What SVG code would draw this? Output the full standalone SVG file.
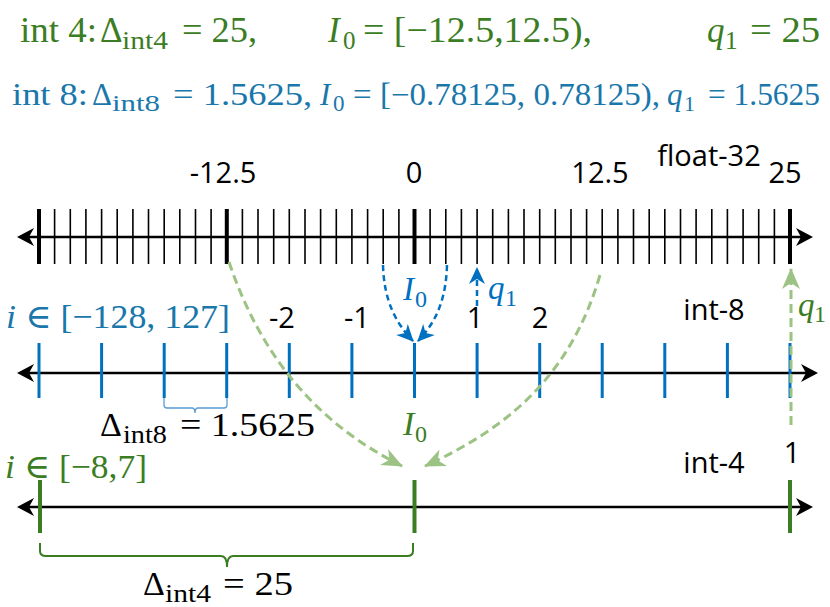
<svg xmlns="http://www.w3.org/2000/svg" width="830" height="607" viewBox="0 0 830 607">
<style>
.m{font-family:"Liberation Serif","DejaVu Serif",serif;}
.it{font-style:italic;}
.s{font-family:"Open Sans","Liberation Sans",sans-serif;font-size:29px;fill:#000;}
.g{fill:#3B7D23;}
.b{fill:#1A77AB;}
.bb{fill:#0070C0;}
.k{fill:#000;}
.axis{stroke:#000;stroke-width:2.6;fill:none;}
.ah{fill:#000;}
.dg{fill:none;stroke:#9CC384;stroke-width:3;stroke-dasharray:9 5;}
.db{fill:none;stroke:#0070C0;stroke-width:2.5;stroke-dasharray:6 4;}
</style>
<defs>
<marker id="ag" markerUnits="userSpaceOnUse" markerWidth="26" markerHeight="22" viewBox="-23 -11 26 22" refX="0" refY="0" orient="auto"><path d="M1,0 L-20,-9 L-14,0 L-20,9 Z" fill="#9CC384"/></marker>
<marker id="ab" markerUnits="userSpaceOnUse" markerWidth="22" markerHeight="20" viewBox="-19 -10 22 20" refX="0" refY="0" orient="auto"><path d="M1,0 L-16,-8 L-11,0 L-16,8 Z" fill="#0070C0"/></marker>
</defs>

<g id="header">
<g class="m g" font-size="35">
<text x="20" y="42" textLength="77" lengthAdjust="spacingAndGlyphs">int 4:</text>
<text x="100" y="42">Δ</text>
<text x="122" y="49" font-size="25" textLength="46" lengthAdjust="spacingAndGlyphs">int4</text>
<text x="182" y="42" textLength="75" lengthAdjust="spacingAndGlyphs">= 25,</text>
<text x="328" y="42" class="it">I</text>
<text x="343" y="49" font-size="25">0</text>
<text x="363" y="42" textLength="229" lengthAdjust="spacingAndGlyphs">= [−12.5,12.5),</text>
<text x="707" y="42" class="it">q</text>
<text x="725" y="49" font-size="25">1</text>
<text x="750" y="42" textLength="70" lengthAdjust="spacingAndGlyphs">= 25</text>
</g>
<g class="m b" font-size="31">
<text x="12" y="105" textLength="76" lengthAdjust="spacingAndGlyphs">int 8:</text>
<text x="92" y="105">Δ</text>
<text x="112" y="111" font-size="23" textLength="48" lengthAdjust="spacingAndGlyphs">int8</text>
<text x="173" y="105" textLength="139" lengthAdjust="spacingAndGlyphs">= 1.5625,</text>
<text x="320" y="105" class="it">I</text>
<text x="333" y="111" font-size="23">0</text>
<text x="353" y="105" textLength="307" lengthAdjust="spacingAndGlyphs">= [−0.78125, 0.78125),</text>
<text x="667" y="105" class="it">q</text>
<text x="684" y="111" font-size="22">1</text>
<text x="708" y="105" textLength="112" lengthAdjust="spacingAndGlyphs">= 1.5625</text>
</g>
</g>

<g id="axis-float32">
<line class="axis" x1="22" y1="237" x2="806" y2="237"/>
<path class="ah" d="M17,237 L34,228 L29,237 L34,246 Z"/>
<path class="ah" d="M813,237 L796,228 L801,237 L796,246 Z"/>
<path stroke="#000" stroke-width="1.6" fill="none" d="M54.6,209V264M70.3,209V264M85.9,209V264M101.6,209V264M117.2,209V264M132.9,209V264M148.5,209V264M164.2,209V264M179.8,209V264M195.5,209V264M211.1,209V264M242.4,209V264M258,209V264M273.7,209V264M289.3,209V264M305,209V264M320.6,209V264M336.3,209V264M351.9,209V264M367.6,209V264M383.2,209V264M398.9,209V264M430.1,209V264M445.8,209V264M461.4,209V264M477.1,209V264M492.7,209V264M508.4,209V264M524,209V264M539.7,209V264M555.3,209V264M571,209V264M586.6,209V264M602.2,209V264M617.9,209V264M633.5,209V264M649.2,209V264M664.8,209V264M680.5,209V264M696.1,209V264M711.8,209V264M727.4,209V264M743.1,209V264M758.7,209V264M774.4,209V264"/>
<path stroke="#000" stroke-width="4" fill="none" d="M39,209V264M226.8,209V264M414.5,209V264M790,209V264"/>
<text class="s" x="223" y="183" text-anchor="middle">-12.5</text>
<text class="s" x="414" y="183" text-anchor="middle">0</text>
<text class="s" x="600" y="183" text-anchor="middle">12.5</text>
<text class="s" x="785" y="183" text-anchor="middle">25</text>
<text class="s" x="709" y="166" text-anchor="middle">float-32</text>
</g>

<g id="axis-int8">
<line class="axis" x1="22" y1="373" x2="811" y2="373"/>
<path class="ah" d="M17,373 L34,364 L29,373 L34,382 Z"/>
<path class="ah" d="M818,373 L801,364 L806,373 L801,382 Z"/>
<path stroke="#0070C0" stroke-width="3" fill="none" d="M39,343V398M101.6,343V398M164.2,343V398M226.7,343V398M289.3,343V398M351.9,343V398M414.5,343V398M477.1,343V398M539.7,343V398M602.2,343V398M664.8,343V398M727.4,343V398M790,343V398"/>
<text class="s" x="282" y="328" text-anchor="middle">-2</text>
<text class="s" x="357" y="328" text-anchor="middle">-1</text>
<text class="s" x="475" y="328" text-anchor="middle">1</text>
<text class="s" x="540" y="328" text-anchor="middle">2</text>
<text class="s" x="714" y="320" text-anchor="middle">int-8</text>
<text class="m b" x="6" y="328" font-size="34" textLength="224" lengthAdjust="spacingAndGlyphs"><tspan class="it">i</tspan> ∈ [−128, 127]</text>
<path d="M164,398 V405 Q164,408 167,408 H192 Q195,408 195,413 Q195,408 198,408 H224 Q227,408 227,405 V398" fill="none" stroke="#5B9BD5" stroke-width="1.3"/>
<g class="m k" font-size="34">
<text x="100" y="436">Δ</text>
<text x="123" y="443" font-size="25" textLength="44" lengthAdjust="spacingAndGlyphs">int8</text>
<text x="180" y="436" textLength="135" lengthAdjust="spacingAndGlyphs">= 1.5625</text>
</g>
</g>

<g id="axis-int4">
<line class="axis" x1="22" y1="507" x2="806" y2="507"/>
<path class="ah" d="M17,507 L34,498 L29,507 L34,516 Z"/>
<path class="ah" d="M813,507 L796,498 L801,507 L796,516 Z"/>
<path stroke="#3B7D23" stroke-width="4" fill="none" d="M40,480V533M414.5,480V533M790,480V533"/>
<text class="s" x="714" y="473" text-anchor="middle">int-4</text>
<text class="s" x="792" y="463" text-anchor="middle">1</text>
<text class="m g" x="5" y="478" font-size="34" textLength="142" lengthAdjust="spacingAndGlyphs"><tspan class="it">i</tspan> ∈ [−8,7]</text>
<path d="M40,543 V551 Q40,556 46,556 H221 Q227,556 227,567 Q227,556 233,556 H407 Q413,556 413,551 V543" fill="none" stroke="#3B7D23" stroke-width="2"/>
<g class="m k" font-size="34">
<text x="143" y="595">Δ</text>
<text x="165" y="602" font-size="25" textLength="46" lengthAdjust="spacingAndGlyphs">int4</text>
<text x="223" y="595" textLength="70" lengthAdjust="spacingAndGlyphs">= 25</text>
</g>
</g>

<g id="connectors">
<path class="dg" d="M229,262 C262,360 320,425 402,466" marker-end="url(#ag)"/>
<path class="dg" d="M600,275 C572,370 515,425 425,466" marker-end="url(#ag)"/>
<path class="dg" d="M791,425 L791,269" marker-end="url(#ag)"/>
<path class="db" d="M383,265 C384,300 395,322 413,341" marker-end="url(#ab)"/>
<path class="db" d="M447,265 C446,300 436,322 418,341" marker-end="url(#ab)"/>
<path class="db" d="M477,306 L477,268" marker-end="url(#ab)"/>
</g>

<g id="connector-labels" class="m">
<text x="403" y="300" font-size="33" class="it bb">I</text>
<text x="415" y="307" font-size="24" class="bb">0</text>
<text x="488" y="299" font-size="33" class="it bb">q</text>
<text x="505" y="306" font-size="24" class="bb">1</text>
<text x="403" y="435" font-size="34" class="it g">I</text>
<text x="415" y="442" font-size="24" class="g">0</text>
<text x="798" y="316" font-size="33" class="it g">q</text>
<text x="814" y="322" font-size="24" class="g">1</text>
</g>
</svg>
